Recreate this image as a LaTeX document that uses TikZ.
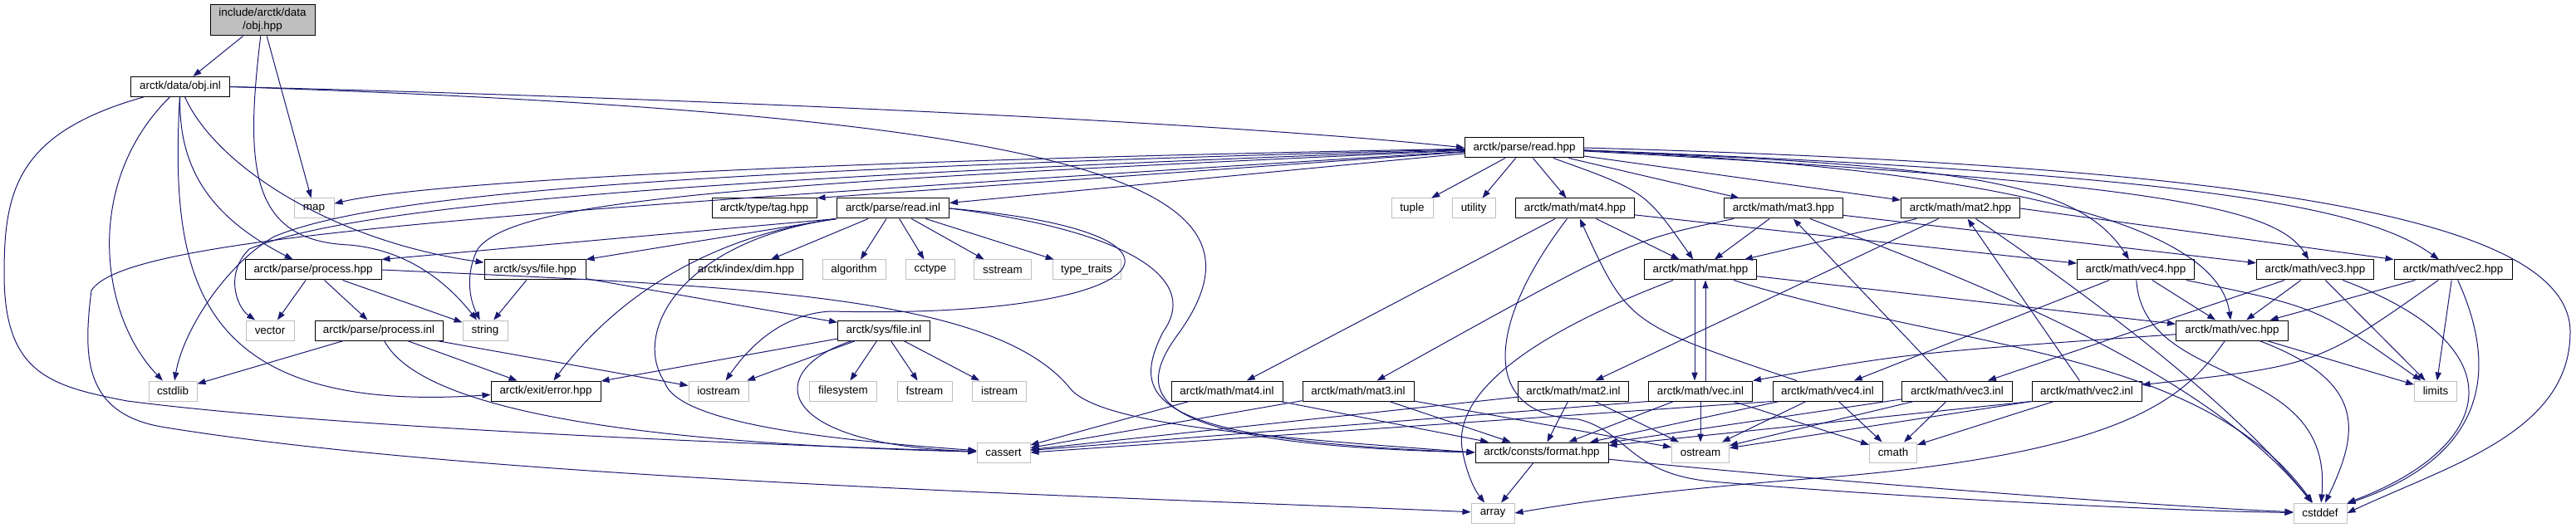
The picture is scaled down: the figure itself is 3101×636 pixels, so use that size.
\documentclass[tikz,border=0pt]{standalone}
\usepackage{fontspec}
\setmainfont{Liberation Sans}
\usepackage{tikz}
\usetikzlibrary{arrows.meta}
\usepackage{xcolor}
\definecolor{incblue}{RGB}{25,25,112}
\definecolor{sysgray}{RGB}{191,191,191}

\begin{document}
\begin{tikzpicture}[
  x=0.5pt, y=-0.5pt,
  font=\fontsize{6.7}{8}\selectfont,
  hdr/.style={draw=black, fill=white, line width=0.5pt, minimum height=12pt, inner sep=1pt},
  sys/.style={hdr, draw=sysgray},
  root/.style={hdr, fill=sysgray, minimum height=18.5pt, align=center},
  inc/.style={draw=incblue, line width=0.5pt, -{Triangle[length=5pt,width=3.6pt]}}
]
\useasboundingbox (0,0) rectangle (3101,636);

\node[root, minimum width=63pt] (objhpp) at (316,24.5) {include/arctk/data\\/obj.hpp};
\node[hdr, minimum width=59.5pt] (objinl) at (217,104.5) {arctk/data/obj.inl};
\node[hdr, minimum width=71.5pt] (readhpp) at (1835,178) {arctk/parse/read.hpp};
\node[sys, minimum width=24pt] (map) at (378,251) {map};
\node[hdr, minimum width=63pt] (taghpp) at (920,251) {arctk/type/tag.hpp};
\node[hdr, minimum width=67.5pt] (readinl) at (1075,251) {arctk/parse/read.inl};
\node[sys, minimum width=25pt] (tuple) at (1700,251) {tuple};
\node[sys, minimum width=26pt] (utility) at (1774,251) {utility};
\node[hdr, minimum width=71.5pt] (mat4hpp) at (1896,251) {arctk/math/mat4.hpp};
\node[hdr, minimum width=71.5pt] (mat3hpp) at (2147,251) {arctk/math/mat3.hpp};
\node[hdr, minimum width=71.5pt] (mat2hpp) at (2360,251) {arctk/math/mat2.hpp};
\node[hdr, minimum width=82pt] (prochpp) at (377,325) {arctk/parse/process.hpp};
\node[hdr, minimum width=61pt] (filehpp) at (644,325) {arctk/sys/file.hpp};
\node[hdr, minimum width=68.5pt] (dimhpp) at (898,325) {arctk/index/dim.hpp};
\node[sys, minimum width=38pt] (algorithm) at (1028,325) {algorithm};
\node[sys, minimum width=29.5pt] (cctype) at (1120,325) {cctype};
\node[sys, minimum width=34.5pt] (sstream) at (1207,325) {sstream};
\node[sys, minimum width=41pt] (typetraits) at (1308,325) {type\_traits};
\node[hdr, minimum width=67.5pt] (mathpp) at (2047,325) {arctk/math/mat.hpp};
\node[hdr, minimum width=70.5pt] (vec4hpp) at (2571,325) {arctk/math/vec4.hpp};
\node[hdr, minimum width=70.5pt] (vec3hpp) at (2787,325) {arctk/math/vec3.hpp};
\node[hdr, minimum width=71pt] (vec2hpp) at (2953,325) {arctk/math/vec2.hpp};
\node[sys, minimum width=29pt] (vector) at (325,398) {vector};
\node[hdr, minimum width=77pt] (procinl) at (456,398) {arctk/parse/process.inl};
\node[sys, minimum width=27pt] (string) at (584,398) {string};
\node[hdr, minimum width=55.5pt] (fileinl) at (1064,398) {arctk/sys/file.inl};
\node[hdr, minimum width=67.5pt] (vechpp) at (2687,398) {arctk/math/vec.hpp};
\node[sys, minimum width=29pt] (cstdlib) at (208,471) {cstdlib};
\node[hdr, minimum width=66pt] (errorhpp) at (657,471) {arctk/exit/error.hpp};
\node[sys, minimum width=36pt] (iostream) at (865,471) {iostream};
\node[sys, minimum width=40.5pt] (filesystem) at (1015,471) {filesystem};
\node[sys, minimum width=33pt] (fstream) at (1113,471) {fstream};
\node[sys, minimum width=32.5pt] (istream) at (1203,471) {istream};
\node[hdr, minimum width=67pt] (mat4inl) at (1477,471) {arctk/math/mat4.inl};
\node[hdr, minimum width=67pt] (mat3inl) at (1635,471) {arctk/math/mat3.inl};
\node[hdr, minimum width=66.5pt] (mat2inl) at (1894,471) {arctk/math/mat2.inl};
\node[hdr, minimum width=62.5pt] (vecinl) at (2047,471) {arctk/math/vec.inl};
\node[hdr, minimum width=66pt] (vec4inl) at (2200,471) {arctk/math/vec4.inl};
\node[hdr, minimum width=66.5pt] (vec3inl) at (2356,471) {arctk/math/vec3.inl};
\node[hdr, minimum width=66pt] (vec2inl) at (2512,471) {arctk/math/vec2.inl};
\node[sys, minimum width=25.5pt] (limits) at (2932,471) {limits};
\node[sys, minimum width=32pt] (cassert) at (1208,545) {cassert};
\node[hdr, minimum width=80pt] (formathpp) at (1856,545) {arctk/consts/format.hpp};
\node[sys, minimum width=34.5pt] (ostream) at (2047,545) {ostream};
\node[sys, minimum width=28.5pt] (cmath) at (2279,545) {cmath};
\node[sys, minimum width=26pt] (array) at (1797,618) {array};
\node[sys, minimum width=32pt] (cstddef) at (2793,618) {cstddef};

\draw[inc] (objhpp) -- (objinl);
\draw[inc] (objhpp) -- (map);
\draw[inc] (objhpp) .. controls (295,200) and (300,290) .. (420,295) .. controls (480,300) and (530,330) .. (string);

\draw[inc] (objinl.east) .. controls (900,120) and (1500,150) .. (readhpp.west);
\draw[inc] (objinl.east) .. controls (1350,140) and (1540,230) .. (1420,400) .. controls (1360,480) and (1380,535) .. (formathpp.west);
\draw[inc] (objinl) .. controls (20,160) and (5,230) .. (5,330) .. controls (5,450) and (60,465) .. (153,483) .. controls (400,515) and (900,535) .. (cassert);
\draw[inc] (objinl) .. controls (100,220) and (120,380) .. (cstdlib);
\draw[inc] (objinl) .. controls (215,200) and (250,260) .. (prochpp);
\draw[inc] (objinl) .. controls (260,200) and (400,290) .. (filehpp);
\draw[inc] (objinl) .. controls (205,330) and (230,500) .. (errorhpp);

\draw[inc] (readhpp) .. controls (900,195) and (500,222) .. (map);
\draw[inc] (readhpp) .. controls (800,205) and (450,235) .. (330,285) .. controls (270,320) and (220,400) .. (cstdlib);
\draw[inc] (readhpp) .. controls (800,215) and (420,250) .. (300,300) .. controls (270,330) and (285,370) .. (vector);
\draw[inc] (readhpp) -- (taghpp.north east);
\draw[inc] (readhpp) -- (readinl);
\draw[inc] (readhpp) .. controls (900,220) and (620,240) .. (575,300) .. controls (560,330) and (565,360) .. (string);
\draw[inc] (readhpp) .. controls (600,255) and (150,285) .. (110,350) .. controls (100,430) and (100,500) .. (200,515) .. controls (600,580) and (1400,600) .. (array);
\draw[inc] (readhpp) -- (tuple);
\draw[inc] (readhpp) -- (utility);
\draw[inc] (readhpp) -- (mat4hpp);
\draw[inc] (readhpp) -- (mat3hpp);
\draw[inc] (readhpp) -- (mat2hpp);
\draw[inc] (readhpp) .. controls (1980,230) .. (mathpp);
\draw[inc] (readhpp) .. controls (2350,200) and (2500,215) .. (vec4hpp);
\draw[inc] (readhpp) .. controls (2450,205) and (2670,280) .. (vechpp);
\draw[inc] (readhpp) .. controls (2600,220) and (2740,250) .. (vec3hpp);
\draw[inc] (readhpp) .. controls (2650,210) and (2850,250) .. (vec2hpp);
\draw[inc] (readhpp.east) .. controls (2700,200) and (3094,260) .. (3094,400) .. controls (3094,520) and (2950,560) .. (cstddef.east);

\draw[inc] (readinl) -- (dimhpp);
\draw[inc] (readinl) -- (algorithm);
\draw[inc] (readinl) -- (cctype);
\draw[inc] (readinl) -- (sstream);
\draw[inc] (readinl) -- (typetraits);
\draw[inc] (readinl.south west) -- (prochpp.north east);
\draw[inc] (readinl.south west) -- (filehpp.north east);
\draw[inc] (readinl.south west) .. controls (850,285) and (740,360) .. (errorhpp);
\draw[inc] (readinl.south west) .. controls (820,290) and (760,400) .. (800,460) .. controls (815,510) and (1000,530) .. (cassert);
\draw[inc] (readinl.east) .. controls (1480,280) and (1400,385) .. (1000,375) .. controls (940,378) and (900,420) .. (iostream);
\draw[inc] (readinl.east) .. controls (1340,275) and (1450,330) .. (1400,400) .. controls (1360,480) and (1380,530) .. (formathpp.west);

\draw[inc] (prochpp) -- (vector);
\draw[inc] (prochpp) -- (procinl);
\draw[inc] (prochpp) -- (string);
\draw[inc] (prochpp.east) .. controls (900,345) and (1200,355) .. (1290,470) .. controls (1330,510) and (1500,525) .. (formathpp.west);
\draw[inc] (filehpp) -- (string);
\draw[inc] (filehpp) -- (fileinl);

\draw[inc] (procinl) -- (cstdlib);
\draw[inc] (procinl) -- (errorhpp);
\draw[inc] (procinl) -- (iostream);
\draw[inc] (procinl) .. controls (510,500) and (800,535) .. (cassert);

\draw[inc] (fileinl) -- (iostream);
\draw[inc] (fileinl) -- (filesystem);
\draw[inc] (fileinl) -- (fstream);
\draw[inc] (fileinl) -- (istream);
\draw[inc] (fileinl) -- (errorhpp);
\draw[inc] (fileinl) .. controls (920,445) and (925,535) .. (cassert);

\draw[inc] (mat4hpp) -- (mathpp);
\draw[inc] (mat4hpp) -- (mat4inl);
\draw[inc] (mat4hpp) -- (vec4hpp);
\draw[inc] (mat4hpp) .. controls (1790,390) and (1780,500) .. (1900,505) .. controls (1960,520) and (1960,570) .. (2060,580) .. controls (2300,600) and (2600,615) .. (cstddef);
\draw[inc] (mat3hpp) -- (mathpp);
\draw[inc] (mat3hpp) .. controls (1960,290) .. (mat3inl);
\draw[inc] (mat3hpp) -- (vec3hpp);
\draw[inc] (mat3hpp) .. controls (2350,330) and (2650,440) .. (cstddef);
\draw[inc] (mat2hpp) -- (mathpp);
\draw[inc] (mat2hpp) -- (mat2inl);
\draw[inc] (mat2hpp.east) -- (vec2hpp.north west);
\draw[inc] (mat2hpp) .. controls (2550,380) and (2700,500) .. (cstddef);

\draw[inc] ([xshift=-3.5pt]mathpp.south) -- ([xshift=-3.5pt]vecinl.north);
\draw[inc] ([xshift=3pt]vecinl.north) -- ([xshift=3pt]mathpp.south);
\draw[inc] (mathpp) -- (vechpp);
\draw[inc] (mathpp) .. controls (1850,400) and (1750,470) .. (1760,540) .. controls (1765,570) and (1775,590) .. (array);
\draw[inc] (mathpp) .. controls (2350,420) and (2650,420) .. (cstddef);

\draw[inc] (vec4hpp) -- (vechpp);
\draw[inc] (vec4hpp) -- (vec4inl);
\draw[inc] (vec4hpp) .. controls (2790,370) .. (limits);
\draw[inc] (vec4hpp) .. controls (2580,470) and (2810,430) .. (cstddef);
\draw[inc] (vec3hpp) -- (vechpp);
\draw[inc] (vec3hpp) -- (vec3inl);
\draw[inc] (vec3hpp) -- (limits);
\draw[inc] (vec3hpp) .. controls (3040,420) and (3000,540) .. (cstddef);
\draw[inc] (vec2hpp) -- (vechpp);
\draw[inc] (vec2hpp) .. controls (2790,440) .. (vec2inl);
\draw[inc] (vec2hpp) -- (limits);
\draw[inc] (vec2hpp) .. controls (3010,450) and (2990,550) .. (cstddef);

\draw[inc] (vechpp) .. controls (2300,425) .. (vecinl.north east);
\draw[inc] (vechpp) -- (limits);
\draw[inc] (vechpp) .. controls (2850,460) and (2840,520) .. (cstddef);
\draw[inc] (vechpp) .. controls (2630,480) and (2560,545) .. (2200,575) .. controls (2000,590) and (1900,605) .. (array.east);

\draw[inc] (mat4inl) -- (cassert);
\draw[inc] (mat4inl) -- (formathpp);
\draw[inc] (mat3inl) -- (cassert);
\draw[inc] (mat3inl) -- (formathpp);
\draw[inc] (mat3inl) -- (ostream);
\draw[inc] (mat2inl) -- (cassert);
\draw[inc] (mat2inl) -- (formathpp);
\draw[inc] (mat2inl) -- (ostream);
\draw[inc] (vecinl.south west) -- (cassert);
\draw[inc] (vecinl) -- (formathpp);
\draw[inc] (vecinl) -- (ostream);
\draw[inc] (vecinl) -- (cmath);
\draw[inc] (vec4inl) .. controls (1960,390) .. (mat4hpp);
\draw[inc] (vec4inl.south west) -- (cassert.east);
\draw[inc] (vec4inl) -- (formathpp);
\draw[inc] (vec4inl) -- (ostream);
\draw[inc] (vec4inl) -- (cmath);
\draw[inc] (vec3inl) -- (mat3hpp);
\draw[inc] (vec3inl) -- (formathpp);
\draw[inc] (vec3inl) -- (ostream);
\draw[inc] (vec3inl) -- (cmath);
\draw[inc] (vec2inl) -- (mat2hpp);
\draw[inc] (vec2inl.south west) -- (formathpp);
\draw[inc] (vec2inl.south west) -- (ostream);
\draw[inc] (vec2inl) -- (cmath);

\draw[inc] (formathpp) -- (array);
\draw[inc] (formathpp) .. controls (2200,580) and (2600,610) .. (cstddef);
\end{tikzpicture}
\end{document}
